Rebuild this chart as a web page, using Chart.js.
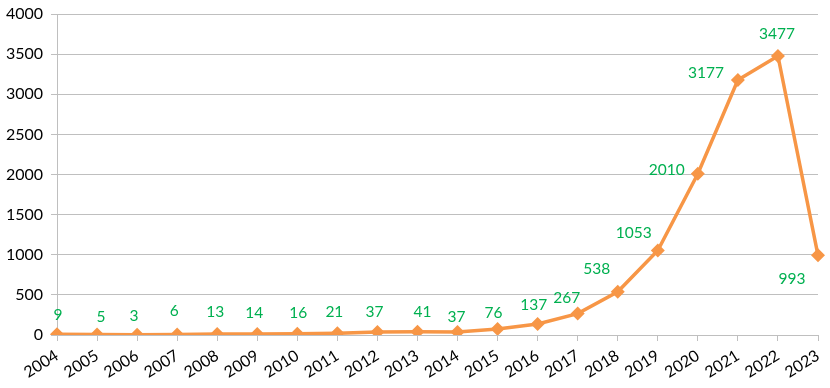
<!DOCTYPE html>
<html>
<head>
<meta charset="utf-8">
<script src="https://cdn.jsdelivr.net/npm/chart.js@4.4.1/dist/chart.umd.min.js"></script>
<style>
  html, body { margin: 0; padding: 0; background: #fff; }
  #wrap { width: 830px; height: 388px; }
</style>
</head>
<body>
<div id="wrap"><canvas id="yearChart"></canvas></div>
<script>
const years = ['2004','2005','2006','2007','2008','2009','2010','2011','2012','2013',
               '2014','2015','2016','2017','2018','2019','2020','2021','2022','2023'];
const counts = [9, 5, 3, 6, 13, 14, 16, 21, 37, 41, 37, 76, 137, 267, 538, 1053, 2010, 3177, 3477, 993];
const yTicks = [0, 500, 1000, 1500, 2000, 2500, 3000, 3500, 4000];

// where each value label sits relative to its point (px)
const labelShift = [
  [1,-19],[4,-18],[-3,-19],[-3,-24],[-2,-22],[-3,-21],[1,-21],[-3,-21],[-3,-20],[5,-20],
  [-1,-15],[-4,-16],[-4,-19],[-11,-16],[-21,-23],[-24,-17],[-31,-4],[-32,-7],[-1,-22],[-26,24]
];

const FONT = 'Lato, "Open Sans", sans-serif';

const valueLabels = {
  id: 'valueLabels',
  afterDatasetsDraw(chart) {
    const ctx = chart.ctx;
    const meta = chart.getDatasetMeta(0);
    ctx.save();
    ctx.font = '15.5px ' + FONT;
    ctx.fillStyle = '#00b050';
    ctx.textAlign = 'center';
    ctx.textBaseline = 'middle';
    meta.data.forEach((pt, i) => {
      const s = labelShift[i];
      ctx.fillText(String(counts[i]), pt.x + s[0], pt.y + s[1]);
    });
    ctx.restore();
  }
};

new Chart(document.getElementById('yearChart'), {
  type: 'line',
  data: {
    labels: years,
    datasets: [{
      data: counts,
      borderColor: '#f79646',
      backgroundColor: '#f79646',
      borderWidth: 3.5,
      pointStyle: 'rectRot',
      pointRadius: 7,
      pointHoverRadius: 7,
      pointBorderWidth: 0,
      tension: 0
    }]
  },
  options: {
    responsive: true,
    maintainAspectRatio: false,
    animation: false,
    layout: { padding: { top: 14, right: 12, left: 0, bottom: 0 } },
    plugins: { legend: { display: false }, tooltip: { enabled: false } },
    scales: {
      x: {
        offset: false,
        grid: { drawOnChartArea: false, drawTicks: true, tickLength: 6, color: '#bfbfbf' },
        border: { color: '#bfbfbf' },
        ticks: { color: '#000', font: { family: FONT, size: 16 }, minRotation: 32, maxRotation: 32, padding: 5, autoSkip: false },
        afterFit(scale) { scale.height = 53; scale.paddingRight = 0; scale.paddingLeft = 0; }
      },
      y: {
        min: 0,
        max: 4000,
        afterBuildTicks(scale) { scale.ticks = yTicks.map(v => ({ value: v })); },
        grid: { color: '#bfbfbf', tickLength: 6 },
        border: { color: '#bfbfbf' },
        ticks: { color: '#000', font: { family: FONT, size: 16 }, padding: 8, callback: v => String(v) },
        afterFit(scale) { scale.width = 57; scale.paddingTop = 0; scale.paddingBottom = 0; }
      }
    }
  },
  plugins: [valueLabels]
});
</script>
</body>
</html>
